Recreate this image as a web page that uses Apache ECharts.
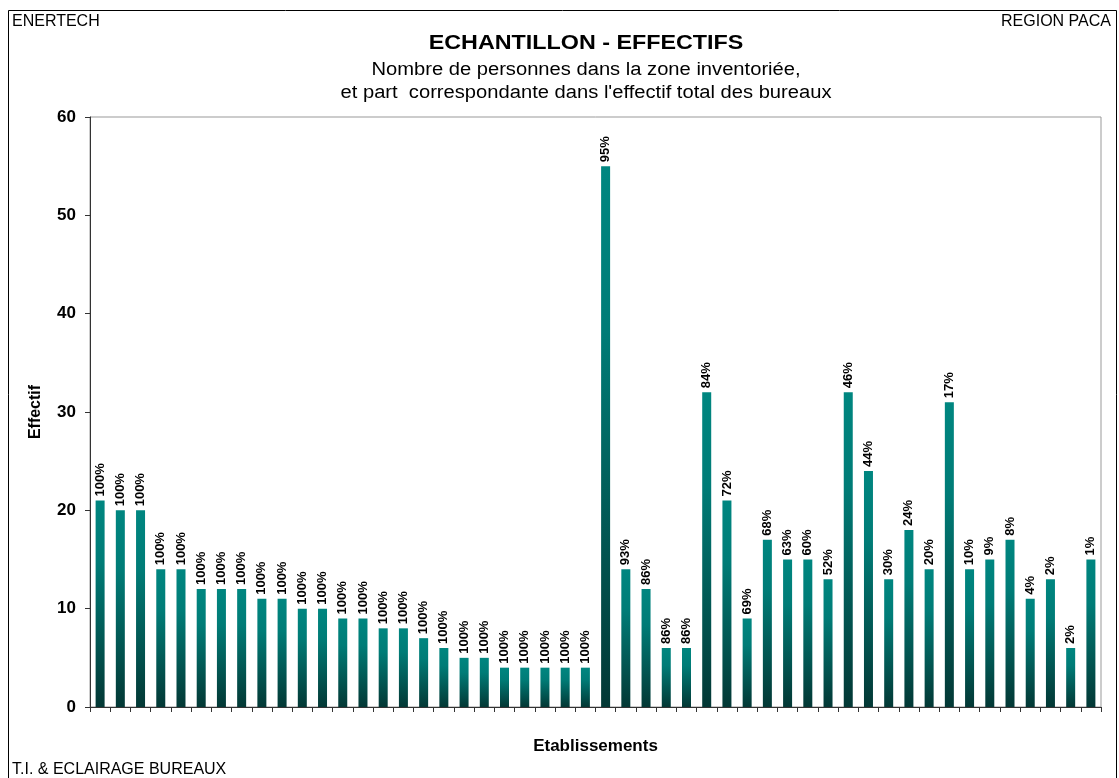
<!DOCTYPE html>
<html>
<head>
<meta charset="utf-8">
<script src="https://cdn.jsdelivr.net/npm/echarts@6/dist/echarts.min.js"></script>
<style>
  html, body { margin: 0; padding: 0; background: #fff; }
  #chart { width: 1119px; height: 778px; }
</style>
</head>
<body>
<div id="chart"></div>
<script>
// Establishments (one bar each)
const establishments = Array.from({ length: 50 }, (_, i) => 'E' + (i + 1));
// Headcount in the inventoried zone
const effectifs = [
  21, 20, 20, 14, 14, 12, 12, 12, 11, 11,
  10, 10, 9, 9, 8, 8, 7, 6, 5, 5,
  4, 4, 4, 4, 4, 55, 14, 12, 6, 6,
  32, 21, 9, 17, 15, 15, 13, 32, 24, 13,
  18, 14, 31, 14, 15, 17, 11, 13, 6, 15
];
// Share of the establishment's total office headcount
const parts = [
  '100%', '100%', '100%', '100%', '100%', '100%', '100%', '100%', '100%', '100%',
  '100%', '100%', '100%', '100%', '100%', '100%', '100%', '100%', '100%', '100%',
  '100%', '100%', '100%', '100%', '100%', '95%', '93%', '86%', '86%', '86%',
  '84%', '72%', '69%', '68%', '63%', '60%', '52%', '46%', '44%', '30%',
  '24%', '20%', '17%', '10%', '9%', '8%', '4%', '2%', '2%', '1%'
];
const yTicks = [0, 10, 20, 30, 40, 50, 60];

const FONT = '"Liberation Sans", Arial, sans-serif';
const chart = echarts.init(document.getElementById('chart'), null, { renderer: 'canvas' });

const barColor = new echarts.graphic.LinearGradient(0, 0, 0, 1, [
  { offset: 0, color: '#008680' },
  { offset: 0.3, color: '#007c77' },
  { offset: 1, color: '#033835' }
]);

chart.setOption({
  backgroundColor: '#ffffff',
  animation: false,
  textStyle: { fontFamily: FONT },
  grid: { left: 90, right: 18, top: 117, bottom: 71, show: true, borderColor: '#999999', borderWidth: 1, backgroundColor: 'transparent' },
  graphic: [
    { type: 'rect', shape: { x: 8.5, y: 10.5, width: 1108, height: 790 }, style: { fill: 'none', stroke: '#000', lineWidth: 1 }, silent: true },
    { type: 'text', x: 12, y: 22, style: { text: 'ENERTECH', font: '16px ' + FONT, fill: '#000', verticalAlign: 'middle' } },
    { type: 'text', x: 1111, y: 22, style: { text: 'REGION PACA', font: '16px ' + FONT, fill: '#000', align: 'right', verticalAlign: 'middle' } },
    { type: 'text', x: 12, y: 770, style: { text: 'T.I. & ECLAIRAGE BUREAUX', font: '16px ' + FONT, fill: '#000', verticalAlign: 'middle' } },
    { type: 'text', x: 586, y: 43, scaleX: 1.11, originX: 0, style: { text: 'ECHANTILLON - EFFECTIFS', font: 'bold 21px ' + FONT, fill: '#000', align: 'center', verticalAlign: 'middle' } },
    { type: 'text', x: 586, y: 70, scaleX: 1.12, originX: 0, style: { text: 'Nombre de personnes dans la zone inventoriée,', font: '18px ' + FONT, fill: '#000', align: 'center', verticalAlign: 'middle' } },
    { type: 'text', x: 586, y: 93, scaleX: 1.12, originX: 0, style: { text: "et part  correspondante dans l'effectif total des bureaux", font: '18px ' + FONT, fill: '#000', align: 'center', verticalAlign: 'middle' } }
  ],
  xAxis: {
    type: 'category',
    data: establishments,
    name: 'Etablissements',
    nameLocation: 'middle',
    nameGap: 31,
    nameTextStyle: { fontFamily: FONT, fontWeight: 'bold', fontSize: 17, color: '#000' },
    axisLine: { lineStyle: { color: '#333', width: 1 } },
    axisTick: { show: true, interval: 0, alignWithLabel: false, length: 5, lineStyle: { color: '#333' } },
    axisLabel: { show: false, interval: 0 },
    splitLine: { show: false }
  },
  yAxis: {
    type: 'value',
    min: yTicks[0],
    max: yTicks[yTicks.length - 1],
    interval: 10,
    name: 'Effectif',
    nameLocation: 'middle',
    nameGap: 46,
    nameRotate: 90,
    nameTextStyle: { fontFamily: FONT, fontWeight: 'bold', fontSize: 16, color: '#000' },
    axisLine: { show: true, lineStyle: { color: '#333', width: 1 } },
    axisTick: { show: true, length: 5, lineStyle: { color: '#333' } },
    axisLabel: { fontFamily: FONT, fontWeight: 'bold', fontSize: 17, color: '#000', margin: 14 },
    splitLine: { show: false }
  },
  series: [{
    type: 'bar',
    data: effectifs,
    barWidth: 9,
    itemStyle: { color: barColor },
    label: {
      show: true,
      position: 'top',
      rotate: 90,
      align: 'left',
      verticalAlign: 'middle',
      distance: 4,
      fontFamily: FONT,
      fontWeight: 'bold',
      fontSize: 13,
      color: '#000',
      formatter: p => parts[p.dataIndex]
    }
  }]
});
</script>
</body>
</html>
